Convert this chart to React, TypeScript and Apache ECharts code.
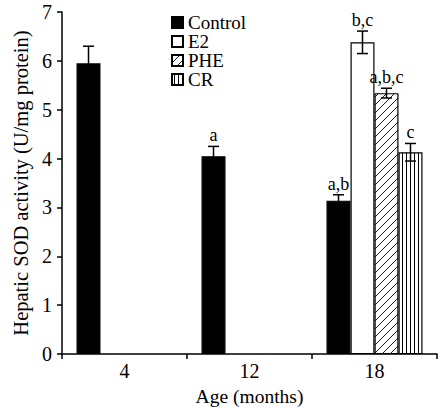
import React, { useEffect, useRef } from 'react';
import * as echarts from 'echarts';

const ages = ['4', '12', '18'];
const seriesNames = ['Control', 'E2', 'PHE', 'CR'];
const controlValues = [5.95, 4.05, 3.14];
const controlErrors = [0.35, 0.2, 0.12];
const controlLetters = ['', 'a', 'a,b'];
const e2Values = [null, null, 6.38];
const e2Errors = [null, null, 0.23];
const e2Letters = ['', '', 'b,c'];
const pheValues = [null, null, 5.34];
const pheErrors = [null, null, 0.1];
const pheLetters = ['', '', 'a,b,c'];
const crValues = [null, null, 4.13];
const crErrors = [null, null, 0.18];
const crLetters = ['', '', 'c'];
const yMin = 0;
const yMax = 7;
const yInterval = 1;

const FONT = '"Liberation Serif", "Times New Roman", serif';

function diagCanvas() {
  const s = 8;
  const c = document.createElement('canvas');
  c.width = s;
  c.height = s;
  const ctx = c.getContext('2d')!;
  ctx.fillStyle = '#fff';
  ctx.fillRect(0, 0, s, s);
  ctx.strokeStyle = '#000';
  ctx.lineWidth = 0.9;
  ctx.beginPath();
  ctx.moveTo(-1, s + 1);
  ctx.lineTo(s + 1, -1);
  ctx.moveTo(-1, 1);
  ctx.lineTo(1, -1);
  ctx.moveTo(s - 1, s + 1);
  ctx.lineTo(s + 1, s - 1);
  ctx.stroke();
  return c;
}

function vertCanvas() {
  const c = document.createElement('canvas');
  c.width = 4;
  c.height = 4;
  const ctx = c.getContext('2d')!;
  ctx.fillStyle = '#fff';
  ctx.fillRect(0, 0, 4, 4);
  ctx.fillStyle = '#000';
  ctx.fillRect(2, 0, 1, 4);
  return c;
}

export default function App() {
  const ref = useRef<HTMLDivElement>(null);
  useEffect(() => {
    if (!ref.current) return;
    const chart = echarts.init(ref.current, undefined, { renderer: 'svg' });
    const diag = { image: diagCanvas(), repeat: 'repeat', imageWidth: 8, imageHeight: 8 };
    const vert = { image: vertCanvas(), repeat: 'repeat', imageWidth: 4, imageHeight: 4 };

    const groups = [
      { name: 'Control', values: controlValues, errors: controlErrors, letters: controlLetters, fill: '#000', offset: -36 },
      { name: 'E2', values: e2Values, errors: e2Errors, letters: e2Letters, fill: '#fff', offset: -12 },
      { name: 'PHE', values: pheValues, errors: pheErrors, letters: pheLetters, fill: diag, offset: 12 },
      { name: 'CR', values: crValues, errors: crErrors, letters: crLetters, fill: vert, offset: 36 },
    ];

    const barSeries = groups.map((g) => ({
      type: 'bar',
      name: g.name,
      data: g.values,
      barWidth: 24,
      barGap: '0%',
      itemStyle: { color: g.fill as any, borderColor: '#000', borderWidth: 1.2 },
    }));

    const errSeries = groups.map((g) => {
      const items: number[][] = [];
      g.values.forEach((v, i) => {
        if (v != null && g.errors[i] != null) items.push([i, v as number, g.errors[i] as number]);
      });
      return {
        type: 'custom',
        data: items,
        z: 10,
        renderItem: (params: any, api: any) => {
          const xi = api.value(0);
          const v = api.value(1);
          const e = api.value(2);
          const top = api.coord([xi, v + e]);
          const bot = api.coord([xi, v - e]);
          const cx = top[0] + g.offset;
          const hw = 5.5;
          const letter = g.letters[xi];
          const style = { stroke: '#000', lineWidth: 1.5 };
          return {
            type: 'group',
            children: [
              { type: 'line', shape: { x1: cx, y1: top[1], x2: cx, y2: bot[1] }, style },
              { type: 'line', shape: { x1: cx - hw, y1: top[1], x2: cx + hw, y2: top[1] }, style },
              { type: 'line', shape: { x1: cx - hw, y1: bot[1], x2: cx + hw, y2: bot[1] }, style },
              {
                type: 'text',
                x: cx,
                y: top[1] - 2,
                style: {
                  text: letter,
                  fill: '#000',
                  font: `18px ${FONT}`,
                  textAlign: 'center',
                  textVerticalAlign: 'bottom',
                },
              },
            ],
          };
        },
      };
    });

    chart.setOption({
      animation: false,
      textStyle: { fontFamily: FONT, color: '#000' },
      grid: { left: 62, right: 6, top: 12, bottom: 52 },
      legend: {
        data: seriesNames,
        orient: 'vertical',
        left: 166,
        top: 8,
        itemWidth: 11,
        itemHeight: 11,
        itemGap: 0,
        icon: 'rect',
        textStyle: { fontFamily: FONT, fontSize: 19, color: '#000', padding: [0, 0, 0, 0] },
        selectedMode: false,
      },
      xAxis: {
        type: 'category',
        data: ages,
        name: 'Age (months)',
        nameLocation: 'middle',
        nameGap: 31,
        nameTextStyle: { fontFamily: FONT, fontSize: 19.5, color: '#000' },
        axisLine: { lineStyle: { color: '#000', width: 1.5 } },
        axisTick: { show: true, length: 5, lineStyle: { color: '#000', width: 1.5 } },
        axisLabel: { fontFamily: FONT, fontSize: 20, color: '#000', margin: 7 },
      },
      yAxis: {
        type: 'value',
        min: yMin,
        max: yMax,
        interval: yInterval,
        name: 'Hepatic SOD activity (U/mg protein)',
        nameLocation: 'middle',
        nameGap: 30,
        nameTextStyle: { fontFamily: FONT, fontSize: 20.5, color: '#000' },
        axisLine: { show: true, lineStyle: { color: '#000', width: 1.5 } },
        axisTick: { show: true, length: 5, lineStyle: { color: '#000', width: 1.5 } },
        axisLabel: { fontFamily: FONT, fontSize: 20, color: '#000', margin: 10 },
        splitLine: { show: false },
      },
      series: [...barSeries, ...errSeries],
    } as any);
    return () => chart.dispose();
  }, []);
  return (
    <div
      ref={ref}
      style={{ position: 'fixed', left: 0, top: 0, width: 443, height: 411, background: '#fff' }}
    />
  );
}
